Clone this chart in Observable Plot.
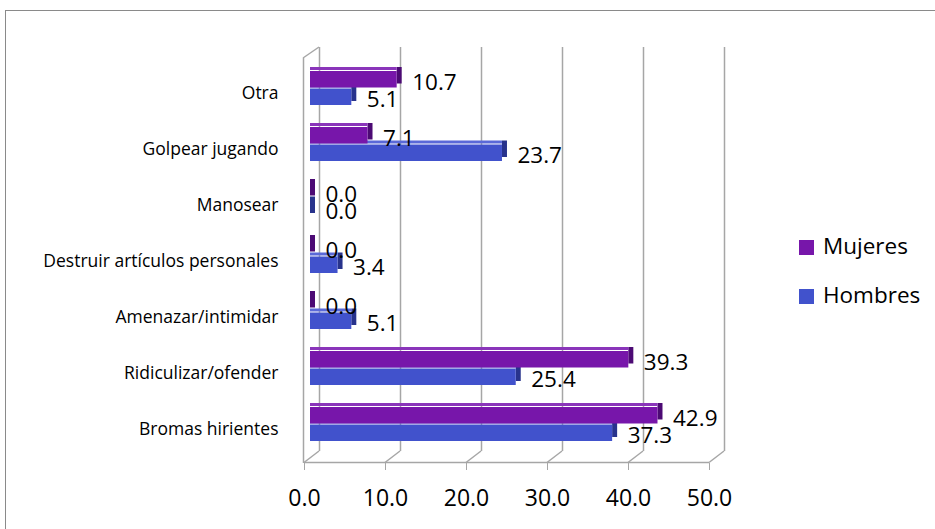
<!DOCTYPE html>
<html>
<head>
<meta charset="utf-8">
<script src="https://cdn.jsdelivr.net/npm/d3@7"></script>
<script src="https://cdn.jsdelivr.net/npm/@observablehq/plot@0.6"></script>
<style>
  html, body { margin: 0; padding: 0; background: #fff; }
  #wrap { position: relative; width: 935px; height: 529px; overflow: hidden; font-family: "Open Sans", sans-serif; }
  #border { position: absolute; left: 5px; top: 10px; width: 960px; height: 560px; border: 1.5px solid #8a8a8a; box-sizing: border-box; }
  #chart { position: absolute; left: 0; top: 0; }
  #legend { position: absolute; left: 799px; top: 0; font-size: 22.5px; color: #000; }
  .item { position: absolute; left: 0; white-space: nowrap; }
  .sw { position: absolute; left: 0; width: 15px; height: 15px; }
  .lab { position: absolute; left: 24px; line-height: 1; }
</style>
</head>
<body>
<div id="wrap">
  <div id="border"></div>
  <div id="chart"></div>
  <div id="legend"></div>
</div>
<script>
const categories = ["Otra", "Golpear jugando", "Manosear", "Destruir artículos personales", "Amenazar/intimidar", "Ridiculizar/ofender", "Bromas hirientes"];
const mujeres = [10.7, 7.1, 0.0, 0.0, 0.0, 39.3, 42.9];
const hombres = [5.1, 23.7, 0.0, 3.4, 5.1, 25.4, 37.3];
const seriesNames = ["Mujeres", "Hombres"];
const seriesColors = ["#7716aa", "#4152cc"];
const sideColors = ["#4c0a74", "#28338c"];
const topColors = ["#8a35ba", "#5a69d8"];
const xTicks = [0, 10, 20, 30, 40, 50];

const dataM = categories.map((c, i) => ({cat: c, v: mujeres[i]}));
const dataH = categories.map((c, i) => ({cat: c, v: hombres[i]}));

const yRange = [45.5, 466.5];
const pad = 0.386;
const step = (yRange[1] - yRange[0]) / (categories.length + pad);
const bw = step * (1 - pad);
const half = bw / 2;

const chart = Plot.plot({
  width: 935,
  height: 529,
  marginLeft: 310,
  marginRight: 220,
  marginTop: 47,
  marginBottom: 66,
  style: {fontFamily: "Open Sans, sans-serif", background: "transparent", overflow: "visible"},
  x: {domain: [0, 50], label: null},
  y: {domain: categories, range: yRange, padding: pad, label: null},
  marks: [
    Plot.ruleX(xTicks, {dx: 9, insetBottom: 12, stroke: "#a6a6a6", strokeWidth: 1.5}),
    Plot.ruleX([0], {dx: -7, insetTop: 11, stroke: "#a6a6a6", strokeWidth: 1.5}),
    // Hombres: side, top, front
    Plot.barX(dataH, {x1: "v", x2: "v", y: "cat", insetRight: -5, insetLeft: 0, insetTop: half - 4, insetBottom: 4, fill: sideColors[1]}),
    Plot.barX(dataH, {x1: 0, x2: "v", y: "cat", insetTop: half - 4, insetBottom: half, fill: topColors[1]}),
    Plot.barX(dataH, {x1: 0, x2: "v", y: "cat", insetTop: half, fill: seriesColors[1]}),
    // Mujeres: side, top, front
    Plot.barX(dataM, {x1: "v", x2: "v", y: "cat", insetRight: -5, insetLeft: 0, insetTop: -4, insetBottom: half + 4, fill: sideColors[0]}),
    Plot.barX(dataM, {x1: 0, x2: "v", y: "cat", insetTop: -4, insetBottom: bw, fill: topColors[0]}),
    Plot.barX(dataM, {x1: 0, x2: "v", y: "cat", insetBottom: half, fill: seriesColors[0]}),
    Plot.text(dataM, {x: "v", y: "cat", text: d => d.v.toFixed(1), dx: 15, dy: -6, textAnchor: "start", fontSize: 22.5, fill: "#000"}),
    Plot.text(dataH, {x: "v", y: "cat", text: d => d.v.toFixed(1), dx: 15, dy: 11, textAnchor: "start", fontSize: 22.5, fill: "#000"}),
    Plot.axisX({ticks: xTicks, tickFormat: d => d.toFixed(1), tickSize: 7, tickPadding: 19, fontSize: 23, dx: -6, stroke: "#a6a6a6", fill: "#000", label: null}),
    Plot.axisY({tickSize: 0, tickPadding: 32, fontSize: 17.5, dy: 5, fill: "#000", label: null})
  ]
});
document.getElementById("chart").appendChild(chart);

// 3D frame decoration (floor and wall edges) using the Plot x scale
const xs = chart.scale("x");
const X = v => xs.apply(v);
const svg = d3.select(chart);
const g = svg.insert("g", "g").attr("stroke", "#a6a6a6").attr("stroke-width", 1.5).attr("fill", "none");
const floorFront = 462.5, floorBack = 451;
g.append("line").attr("x1", X(0) - 6).attr("x2", X(50) - 6).attr("y1", floorFront).attr("y2", floorFront);
xTicks.forEach(v => {
  g.append("line").attr("x1", X(v) - 6).attr("y1", floorFront).attr("x2", X(v) + 9).attr("y2", floorBack);
});
g.append("line").attr("x1", X(0) - 7).attr("y1", 58).attr("x2", X(0) + 9).attr("y2", 47);

// Legend
const legend = document.getElementById("legend");
const legendTops = [240, 289];
seriesNames.forEach((name, i) => {
  const item = document.createElement("div");
  item.className = "item";
  item.style.top = legendTops[i] + "px";
  item.innerHTML = `<div class="sw" style="background:${seriesColors[i]}"></div><div class="lab" style="top:-5px">${name}</div>`;
  legend.appendChild(item);
});
</script>
</body>
</html>
